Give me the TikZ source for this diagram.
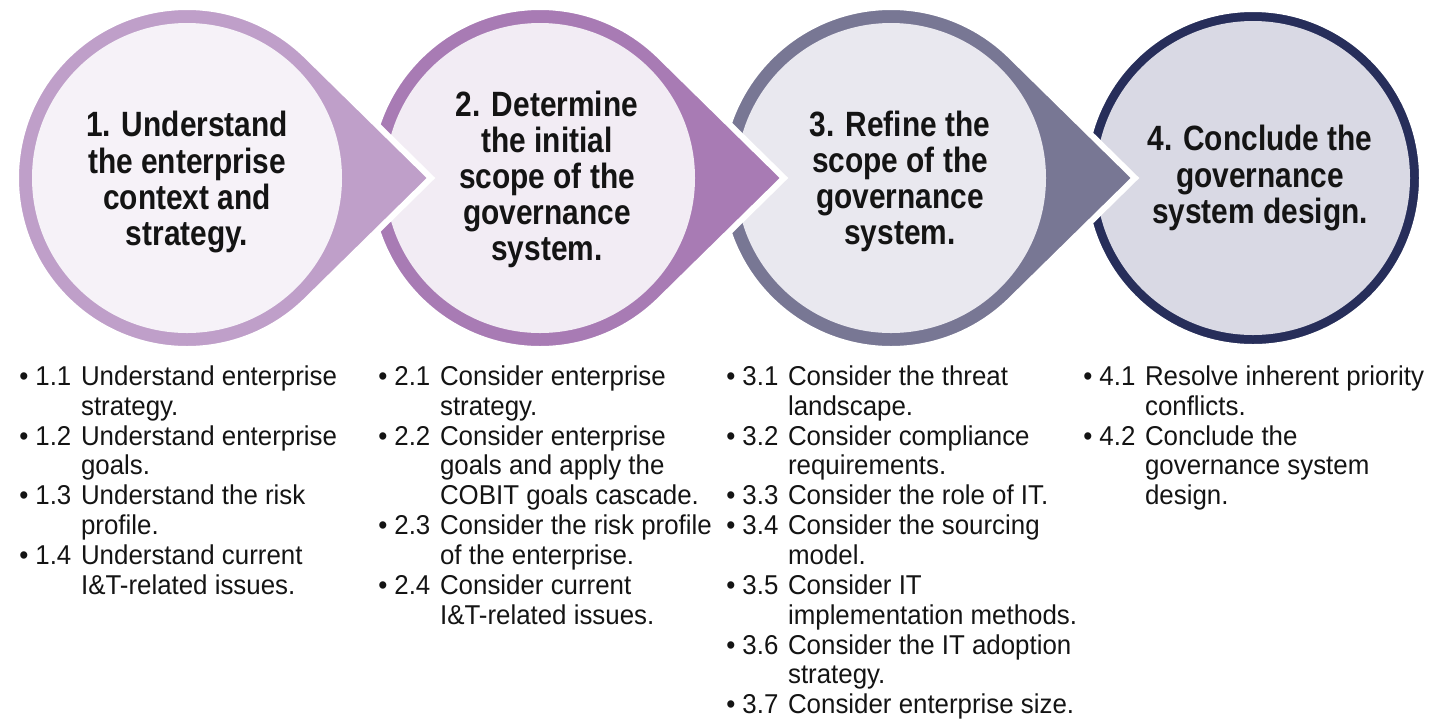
\documentclass[tikz,border=0pt]{standalone}
\usepackage{fontspec}
\setmainfont[FakeStretch=0.85]{Liberation Sans}
\newfontfamily\listfont[FakeStretch=0.95]{Liberation Sans}
\usepackage{tikz}
\usetikzlibrary{calc}
\definecolor{ringA}{HTML}{BF9FC9}
\definecolor{fillA}{HTML}{F6F2F8}
\definecolor{ringB}{HTML}{A87BB4}
\definecolor{fillB}{HTML}{F2ECF4}
\definecolor{ringC}{HTML}{787794}
\definecolor{fillC}{HTML}{E9E8EF}
\definecolor{ringD}{HTML}{272E5A}
\definecolor{fillD}{HTML}{D9D9E4}
\definecolor{ink}{HTML}{141414}
\tikzstyle{stagetext}=[align=center, inner sep=0pt, text=ink, font=\bfseries\fontsize{20}{20.5}\selectfont]
\tikzstyle{listtext}=[anchor=north west, inner sep=0pt, text=ink, font=\listfont\fontsize{15.5}{17}\selectfont]
\tikzstyle{gap}=[draw=white, line width=0.12cm]
% teardrop: centre x, ring colour, fill colour
\newcommand{\stagedrop}[3]{
	\path [style=gap, fill=#2] ($(#1,-178)+(46:171)$) arc[start angle=46, end angle=314, radius=171] -- (#1+244,-178) -- cycle;
	\fill [#3] (#1,-178) circle (155);
}
\newcommand{\itm}[2]{\textbullet & #1 & #2}
\begin{document}
\begin{tikzpicture}[x=0.02cm, y=0.02cm]
	\useasboundingbox (0,0) rectangle (1441,-718);
	% circles, last one first
	\path [style=gap, fill=ringD] (1253,-178) circle (169);
	\fill [fillD] (1253,-178) circle (157);
	\stagedrop{891}{ringC}{fillC}
	\stagedrop{540}{ringB}{fillB}
	\stagedrop{187}{ringA}{fillA}

	\node [style=stagetext] (s1) at (187,-182) {1. Understand\\the enterprise\\context and\\strategy.};
	\node [style=stagetext] (s2) at (547,-179) {2. Determine\\the initial\\scope of the\\governance\\system.};
	\node [style=stagetext] (s3) at (900,-181) {3. Refine the\\scope of the\\governance\\system.};
	\node [style=stagetext] (s4) at (1260,-178) {4. Conclude the\\governance\\system design.};

	\node [style=listtext] (l1) at (19,-364) {\begin{tabular}{@{}l@{\hspace{4pt}}l@{\hspace{5.5pt}}l@{}}
		\itm{1.1}{Understand enterprise}\\ && strategy.\\
		\itm{1.2}{Understand enterprise}\\ && goals.\\
		\itm{1.3}{Understand the risk}\\ && profile.\\
		\itm{1.4}{Understand current}\\ && I\&T-related issues.
	\end{tabular}};
	\node [style=listtext] (l2) at (378,-364) {\begin{tabular}{@{}l@{\hspace{4pt}}l@{\hspace{5.5pt}}l@{}}
		\itm{2.1}{Consider enterprise}\\ && strategy.\\
		\itm{2.2}{Consider enterprise}\\ && goals and apply the\\ && COBIT goals cascade.\\
		\itm{2.3}{Consider the risk profile}\\ && of the enterprise.\\
		\itm{2.4}{Consider current}\\ && I\&T-related issues.
	\end{tabular}};
	\node [style=listtext] (l3) at (726,-364) {\begin{tabular}{@{}l@{\hspace{4pt}}l@{\hspace{5.5pt}}l@{}}
		\itm{3.1}{Consider the threat}\\ && landscape.\\
		\itm{3.2}{Consider compliance}\\ && requirements.\\
		\itm{3.3}{Consider the role of IT.}\\
		\itm{3.4}{Consider the sourcing}\\ && model.\\
		\itm{3.5}{Consider IT}\\ && implementation methods.\\
		\itm{3.6}{Consider the IT adoption}\\ && strategy.\\
		\itm{3.7}{Consider enterprise size.}
	\end{tabular}};
	\node [style=listtext] (l4) at (1083,-364) {\begin{tabular}{@{}l@{\hspace{4pt}}l@{\hspace{5.5pt}}l@{}}
		\itm{4.1}{Resolve inherent priority}\\ && conflicts.\\
		\itm{4.2}{Conclude the}\\ && governance system\\ && design.
	\end{tabular}};
\end{tikzpicture}
\end{document}
